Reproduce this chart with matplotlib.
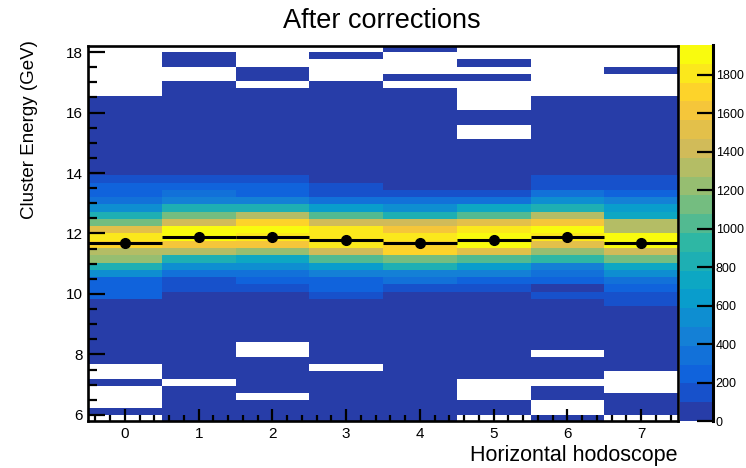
import numpy as np
import matplotlib
matplotlib.use('Agg')
import matplotlib.pyplot as plt
from matplotlib.colors import LinearSegmentedColormap, ListedColormap, BoundaryNorm
from matplotlib.ticker import MultipleLocator

plt.rcParams['font.family'] = ['Liberation Sans', 'DejaVu Sans']

# hodoscope channels (x bins) and energy binning (0.24 GeV, one extra bin below 6)
channels = np.arange(8)
e_edges = 6.0 + 0.24 * np.arange(-1, 52)

# bin contents per channel, from the lowest energy bin (5.76-6.00) to the highest
counts = [
    # channel 0
    [0, 6, 0, 0, 0, 5, 0, 0, 7, 9, 10, 12, 15, 18, 25, 40,
     60, 240, 240, 240, 540, 830, 1220, 1320, 1710, 1810, 1520, 1130, 830, 540, 340, 240, 240, 150,
     50, 35, 25, 18, 14, 11, 9, 7, 6, 5, 4, 0, 0, 0, 0, 0, 0, 0],
    # channel 1
    [3, 5, 6, 6, 8, 0, 8, 9, 10, 12, 14, 16, 20, 24, 30, 45,
     60, 75, 150, 150, 340, 540, 830, 1320, 1620, 1910, 1910, 1420, 1130, 830, 440, 340, 240, 150,
     60, 40, 28, 20, 15, 12, 10, 8, 7, 6, 5, 4, 3, 0, 0, 2, 2, 0],
    # channel 2
    [3, 5, 5, 0, 7, 8, 9, 10, 11, 0, 0, 14, 17, 21, 28, 40,
     60, 80, 150, 240, 340, 540, 730, 1220, 1620, 1810, 1910, 1710, 1320, 830, 440, 240, 240, 150,
     60, 40, 28, 20, 15, 12, 10, 8, 7, 6, 5, 4, 0, 3, 2, 0, 0, 0],
    # channel 3
    [3, 5, 6, 6, 7, 8, 9, 0, 10, 11, 13, 15, 18, 22, 28, 40,
     60, 150, 240, 240, 440, 640, 1030, 1420, 1810, 1810, 1810, 1420, 1030, 640, 340, 150, 150, 70,
     50, 35, 25, 18, 14, 11, 9, 8, 7, 6, 5, 4, 3, 0, 0, 0, 2, 0],
    # channel 4
    [3, 4, 5, 6, 7, 8, 9, 10, 11, 13, 15, 18, 22, 27, 35, 45,
     55, 70, 150, 340, 440, 830, 1130, 1710, 1710, 1810, 1620, 1420, 830, 540, 340, 150, 80, 60,
     45, 35, 25, 18, 14, 11, 9, 8, 7, 6, 5, 4, 0, 3, 0, 0, 0, 2],
    # channel 5
    [0, 5, 6, 0, 0, 0, 8, 9, 10, 12, 14, 17, 21, 26, 33, 45,
     55, 70, 150, 240, 440, 640, 1030, 1520, 1910, 1910, 1810, 1520, 1030, 730, 340, 150, 80, 60,
     45, 35, 25, 18, 14, 0, 0, 6, 5, 0, 0, 0, 0, 3, 0, 2, 0, 0],
    # channel 6
    [3, 0, 0, 6, 7, 0, 8, 9, 10, 0, 13, 16, 20, 25, 32, 45,
     60, 150, 70, 240, 340, 440, 930, 1220, 1520, 1810, 1910, 1620, 1320, 830, 540, 340, 150, 150,
     50, 35, 25, 18, 14, 11, 9, 8, 7, 6, 5, 0, 0, 0, 0, 0, 0, 0],
    # channel 7
    [0, 5, 6, 7, 0, 0, 0, 9, 10, 11, 13, 15, 18, 22, 28, 40,
     150, 150, 240, 340, 540, 730, 1130, 1420, 1910, 1910, 1320, 1320, 730, 640, 440, 240, 150, 150,
     50, 35, 25, 18, 14, 11, 9, 8, 7, 6, 5, 0, 0, 0, 3, 0, 0, 0],
]

# mean cluster energy per channel (profile markers)
mean_energy = [11.68, 11.87, 11.87, 11.77, 11.68, 11.77, 11.87, 11.68]

z_max = 1956
n_levels = 20

# ROOT kBird palette, sampled like ROOT does for 20 contours
bird_r = [0.2082, 0.0592, 0.0780, 0.0232, 0.1802, 0.5301, 0.8186, 0.9956, 0.9764]
bird_g = [0.1664, 0.3599, 0.5041, 0.6419, 0.7178, 0.7492, 0.7328, 0.7862, 0.9832]
bird_b = [0.5293, 0.8684, 0.8385, 0.7914, 0.6425, 0.4662, 0.3499, 0.1968, 0.0539]
stops = np.linspace(0, 1, 9)
bird = LinearSegmentedColormap.from_list(
    'bird', list(zip(stops, zip(bird_r, bird_g, bird_b))), N=255)
level_colors = [bird(int((i + 0.99) * 255 / n_levels) / 254) for i in range(n_levels)]
cmap = ListedColormap(level_colors)
norm = BoundaryNorm(np.linspace(0, z_max, n_levels + 1), n_levels)

H = np.array(counts, dtype=float).T
H = np.ma.masked_equal(H, 0)

fig = plt.figure(figsize=(7.46, 4.68), dpi=100)
ax = fig.add_axes([88/746, 47/468, 590/746, 375/468])

x_edges = np.arange(-0.5, 8.5, 1)
mesh = ax.pcolormesh(x_edges, e_edges, H, cmap=cmap, norm=norm)

ax.errorbar(channels, mean_energy, xerr=0.5, fmt='o', color='k',
            ms=7, elinewidth=2.2, capsize=0)

ax.set_xlim(-0.5, 7.5)
ax.set_ylim(5.8, 18.2)
ax.set_xticks(channels)
ax.set_yticks(np.arange(6, 19, 2))
ax.xaxis.set_minor_locator(MultipleLocator(0.2))
ax.yaxis.set_minor_locator(MultipleLocator(0.5))
ax.tick_params(axis='x', which='major', direction='in', length=9, width=1.6,
               labelsize=11, pad=4)
ax.tick_params(axis='x', which='minor', direction='in', length=4.5, width=1.6)
ax.tick_params(axis='y', which='major', direction='in', length=12, width=1.6,
               labelsize=11, pad=4)
ax.tick_params(axis='y', which='minor', direction='in', length=6.5, width=1.6)
ax.tick_params(top=False, right=False)
for s in ax.spines.values():
    s.set_linewidth(1.9)

# palette axis
cax = fig.add_axes([680/746, 47/468, 33/746, 376/468])
cb = fig.colorbar(mesh, cax=cax, ticks=np.arange(0, 1801, 200))
cb.outline.set_visible(False)
cb.minorticks_off()
cax.yaxis.set_ticks_position('right')
cax.tick_params(direction='in', length=11.5, width=1.6, labelsize=9, pad=2)
cax.plot([1, 1], [0, 1], transform=cax.transAxes, color='k', lw=2.2,
         clip_on=False)

fig.text(382/746, 1 - 21/468, 'After corrections', ha='center', va='center',
         fontsize=19.5)
fig.text(678/746, 1 - 455/468, 'Horizontal hodoscope', ha='right', va='center',
         fontsize=15.5)
fig.text(30/746, 1 - 40/468, 'Cluster Energy (GeV)', ha='center', va='top',
         rotation=90, fontsize=13.5)

fig.savefig('out.png', dpi=100)
